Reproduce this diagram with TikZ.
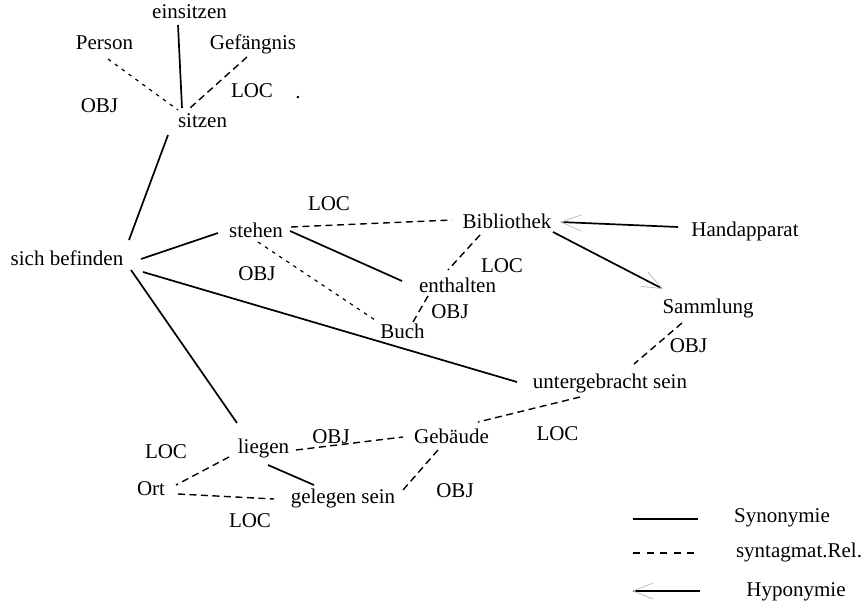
\documentclass[tikz,border=0pt]{standalone}
\usepackage{fontspec}
\setmainfont{Liberation Serif}
\usetikzlibrary{arrows.meta}
\begin{document}
\begin{tikzpicture}[x=1pt,y=-1pt,
  lbl/.style={anchor=base,inner sep=0pt,font=\fontsize{21}{24}\selectfont},
  syn/.style={line width=1.7pt},
  sm/.style={line width=1.4pt,dash pattern=on 7pt off 4.5pt},
  smf/.style={line width=1.2pt,dash pattern=on 3.5pt off 5pt},
  hyp/.style={line width=1.7pt,-{Straight Barb[length=20pt,width=16pt,line width=0.8pt,color=gray!50]}}]
\useasboundingbox (0,0) rectangle (865,610);
% nodes
\node[lbl] (ein) at (189.5,19) {einsitzen};
\node[lbl] (per) at (104.5,50) {Person};
\node[lbl] (gef) at (253,50) {Gefängnis};
\node[lbl] (locA) at (252,97) {LOC};
\node[lbl] (objA) at (99.5,112) {OBJ};
\node[lbl] (dot) at (298,99) {.};
\node[lbl] (sit) at (202.5,127) {sitzen};
\node[lbl] (bef) at (67,265) {sich befinden};
\node[lbl] (ste) at (256,237) {stehen};
\node[lbl] (locB) at (329,210) {LOC};
\node[lbl] (bib) at (507,228) {Bibliothek};
\node[lbl] (hand) at (745,236) {Handapparat};
\node[lbl] (objB) at (257,280) {OBJ};
\node[lbl] (locC) at (502,272) {LOC};
\node[lbl] (ent) at (457.5,292) {enthalten};
\node[lbl] (objC) at (450,318) {OBJ};
\node[lbl] (buch) at (402.5,338) {Buch};
\node[lbl] (samm) at (708,313) {Sammlung};
\node[lbl] (objD) at (688.5,352) {OBJ};
\node[lbl] (unt) at (610,388) {untergebracht sein};
\node[lbl] (locD) at (557.5,440) {LOC};
\node[lbl] (geb) at (451.5,443) {Gebäude};
\node[lbl] (lie) at (263.5,453) {liegen};
\node[lbl] (objE) at (331,443) {OBJ};
\node[lbl] (locE) at (166,458) {LOC};
\node[lbl] (ort) at (151,495) {Ort};
\node[lbl] (gel) at (343,503) {gelegen sein};
\node[lbl] (objF) at (455,497) {OBJ};
\node[lbl] (locF) at (250,527) {LOC};
% legend
\node[lbl] (lsyn) at (782,522) {Synonymie};
\node[lbl] (lsm) at (799,557) {syntagmat.Rel.};
\node[lbl] (lhyp) at (796,596) {Hyponymie};
\coordinate (s1) at (633,519); \coordinate (s2) at (698,519);
\coordinate (d1) at (633,553); \coordinate (d2) at (698,553);
\coordinate (h1) at (700,591); \coordinate (h2) at (632,591);
\draw[syn] (s1) -- (s2);
\draw[line width=1.4pt,dash pattern=on 7pt off 6.5pt] (d1) -- (d2);
\draw[hyp] (h1) -- (h2);
% connectors
\draw[syn] ([shift={(-11.5,6)}]ein.base) -- ([shift={(-20.5,-19)}]sit.base);
\draw[smf] ([shift={(3.5,9)}]per.base) -- ([shift={(-24.5,-17)}]sit.base);
\draw[sm] ([shift={(-6,7)}]gef.base) -- ([shift={(-12.5,-19)}]sit.base);
\draw[syn] ([shift={(-34.5,8)}]sit.base) -- ([shift={(62,-25)}]bef.base);
\draw[syn] ([shift={(74,-6)}]bef.base) -- ([shift={(-38,-4)}]ste.base);
\draw[syn] ([shift={(76,7)}]bef.base) -- ([shift={(-93,-6)}]unt.base);
\draw[syn] ([shift={(64,5)}]bef.base) -- ([shift={(-26.5,-30)}]lie.base);
\draw[sm] ([shift={(35,-10)}]ste.base) -- ([shift={(-55,-8)}]bib.base);
\draw[syn] ([shift={(34,-6)}]ste.base) -- ([shift={(-55.5,-11)}]ent.base);
\draw[smf] ([shift={(2,5)}]ste.base) -- ([shift={(-27.5,-18)}]buch.base);
\draw[sm] ([shift={(-27,7)}]bib.base) -- ([shift={(-9.5,-22)}]ent.base);
\draw[sm] ([shift={(-29.5,4)}]ent.base) -- ([shift={(10.5,-16)}]buch.base);
\draw[hyp] ([shift={(-67,-9)}]hand.base) -- ([shift={(53,-6)}]bib.base);
\draw[hyp] ([shift={(46,4)}]bib.base) -- ([shift={(-45,-24)}]samm.base);
\draw[sm] ([shift={(-26,10)}]samm.base) -- ([shift={(24,-24)}]unt.base);
\draw[sm] ([shift={(-30,9)}]unt.base) -- ([shift={(26.5,-21)}]geb.base);
\draw[sm] ([shift={(32.5,-3)}]lie.base) -- ([shift={(-48.5,-6)}]geb.base);
\draw[syn] ([shift={(4.5,12)}]lie.base) -- ([shift={(-29,-18)}]gel.base);
\draw[sm] ([shift={(-34.5,4)}]lie.base) -- ([shift={(25,-10)}]ort.base);
\draw[sm] ([shift={(27,-1)}]ort.base) -- ([shift={(-69,-4)}]gel.base);
\draw[sm] ([shift={(-13.5,7)}]geb.base) -- ([shift={(60,-13)}]gel.base);
\end{tikzpicture}
\end{document}
